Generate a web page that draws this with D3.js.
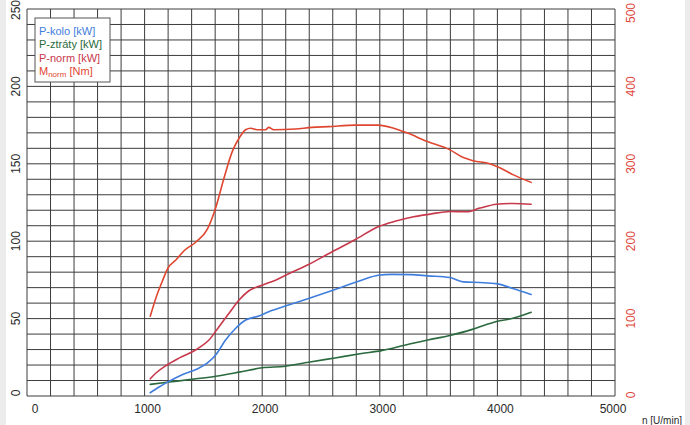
<!DOCTYPE html>
<html>
<head>
<meta charset="utf-8">
<script src="https://cdn.jsdelivr.net/npm/d3@7"></script>
<style>
html,body{margin:0;padding:0;background:#fff;}
svg{display:block;}
text{font-family:"Liberation Sans",Arial,sans-serif;}
</style>
</head>
<body>
<svg id="chart" width="690" height="425"></svg>
<script>
// ---- data (rpm, value) ----
const rpmTicks = [0, 1000, 2000, 3000, 4000, 5000];
const leftTicks = [0, 50, 100, 150, 200, 250];
const rightTicks = [0, 100, 200, 300, 400, 500];

const pKoloRpm = [1048,1127,1211,1324,1437,1535,1606,1690,1775,1859,1972,2056,2197,2394,2620,2845,2986,3099,3268,3408,3597,3710,3851,3992,4132,4287];
const pKoloVal = [2.1,6,9.6,13.9,17.1,21.4,26.7,36.3,43.8,49.1,51.7,54.5,58.1,63,68.8,74.8,78,78.6,78.4,77.6,76.5,73.7,73.3,72.6,69.4,65.6];

const pZtratyRpm = [1048,1211,1437,1606,1803,2000,2197,2394,2620,2845,3014,3211,3408,3597,3794,3992,4132,4287];
const pZtratyVal = [7.5,9,11.1,12.8,15.4,18.2,19.2,21.8,24.6,27.4,29.3,32.8,36.2,39.1,43.2,48.1,50.2,54.1];

const pNormRpm = [1048,1099,1183,1296,1437,1549,1634,1718,1803,1887,2000,2113,2225,2394,2563,2789,2986,3146,3287,3428,3597,3738,3851,3992,4132,4287];
const pNormVal = [11.1,15,19.7,24.6,29.9,36.3,44.9,53.4,62,68,71.6,74.8,79,85,91.9,100.9,109.4,113.2,115.8,117.5,119.2,119,121.4,123.9,124.4,123.9];

const mNormRpm = [1048,1099,1155,1197,1268,1338,1437,1535,1606,1676,1746,1803,1859,1901,1958,2028,2056,2099,2282,2423,2563,2789,2986,3118,3231,3400,3597,3710,3794,3935,4020,4132,4287];
const mNormVal = [103,128,150,165,176,188,199,216,244,282,316,333,344,346,344,344,347,344,345,347,348,350,350,346,340,329,318,308,304,300,295,286,276];

const legendLabels = ["P-kolo [kW]", "P-ztráty [kW]", "P-norm [kW]", "M"];
const colors = {kolo:"#3f7ddc", ztraty:"#2b6a3e", norm:"#c8384b", m:"#df4630"};

// ---- layout ----
const svg = d3.select("#chart");
const L = 27, R = 615, T = 9, B = 396;

svg.append("rect").attr("x",0).attr("y",0).attr("width",690).attr("height",425).attr("fill","#ffffff");
svg.append("rect").attr("x",0).attr("y",0).attr("width",6).attr("height",425).attr("fill","#ececec");
svg.append("rect").attr("x",685).attr("y",0).attr("width",5).attr("height",425).attr("fill","#ececec");

const x = d3.scaleLinear().domain([0,5000]).range([L,R]);
const yL = d3.scaleLinear().domain([0,250]).range([B,T]);
const yR = d3.scaleLinear().domain([0,500]).range([B,T]);

// grid
const g = svg.append("g");
g.selectAll("line.v").data(d3.range(0,5001,200)).enter().append("line")
  .attr("x1",d=>x(d)).attr("x2",d=>x(d)).attr("y1",T).attr("y2",B)
  .attr("stroke","#3c3c3c").attr("stroke-width",1);
g.selectAll("line.h").data(d3.range(0,251,10)).enter().append("line")
  .attr("x1",L).attr("x2",R).attr("y1",d=>yL(d)).attr("y2",d=>yL(d))
  .attr("stroke","#3c3c3c").attr("stroke-width",1);

// axes labels
svg.selectAll("text.xt").data(rpmTicks).enter().append("text")
  .attr("x",d=>x(d)+ (d===0?8:(d===5000?-2:3))).attr("y",413)
  .attr("text-anchor","middle").attr("font-size",12).attr("fill","#2a2a2a").text(d=>d);

svg.selectAll("text.yl").data(leftTicks).enter().append("text")
  .attr("transform",d=>`translate(20,${yL(d) + (d===250?1:(d===0?-3:0))}) rotate(-90)`)
  .attr("text-anchor","middle").attr("font-size",12).attr("fill","#2a2a2a").text(d=>d);

svg.selectAll("text.yr").data(rightTicks).enter().append("text")
  .attr("transform",d=>`translate(635,${yR(d) + (d===500?4:(d===0?-1:0))}) rotate(-90)`)
  .attr("text-anchor","middle").attr("font-size",12).attr("fill","#e0473c").text(d=>d);

svg.append("text").attr("x",642).attr("y",424).attr("font-size",10).attr("fill","#2a2a2a").text("n [U/min]");

// curves
const mk = (xs, ys, ys_scale) => xs.map((v,i)=>[x(v), ys_scale(ys[i])]);
const line = d3.line().curve(d3.curveMonotoneX);
const series = [
  {pts: mk(pZtratyRpm,pZtratyVal,yL), c: colors.ztraty},
  {pts: mk(pKoloRpm,pKoloVal,yL), c: colors.kolo},
  {pts: mk(pNormRpm,pNormVal,yL), c: colors.norm},
  {pts: mk(mNormRpm,mNormVal,yR), c: colors.m}
];
svg.selectAll("path.s").data(series).enter().append("path")
  .attr("d",d=>line(d.pts)).attr("fill","none").attr("stroke",d=>d.c)
  .attr("stroke-width",1.6).attr("stroke-linejoin","round").attr("stroke-linecap","round");

// legend
const lg = svg.append("g");
lg.append("rect").attr("x",35).attr("y",18).attr("width",75).attr("height",64)
  .attr("fill","#ffffff").attr("stroke","#555").attr("stroke-width",1);
const lcol = [colors.kolo, colors.ztraty, colors.norm, colors.m];
legendLabels.forEach((t,i)=>{
  const tx = lg.append("text").attr("x",39).attr("y",35+i*13.3).attr("font-size",11).attr("fill",lcol[i]);
  if(i<3){ tx.text(t); }
  else {
    tx.append("tspan").text("M");
    tx.append("tspan").attr("font-size",8).attr("dy",2).text("norm");
    tx.append("tspan").attr("dy",-2).text(" [Nm]");
  }
});
</script>
</body>
</html>
